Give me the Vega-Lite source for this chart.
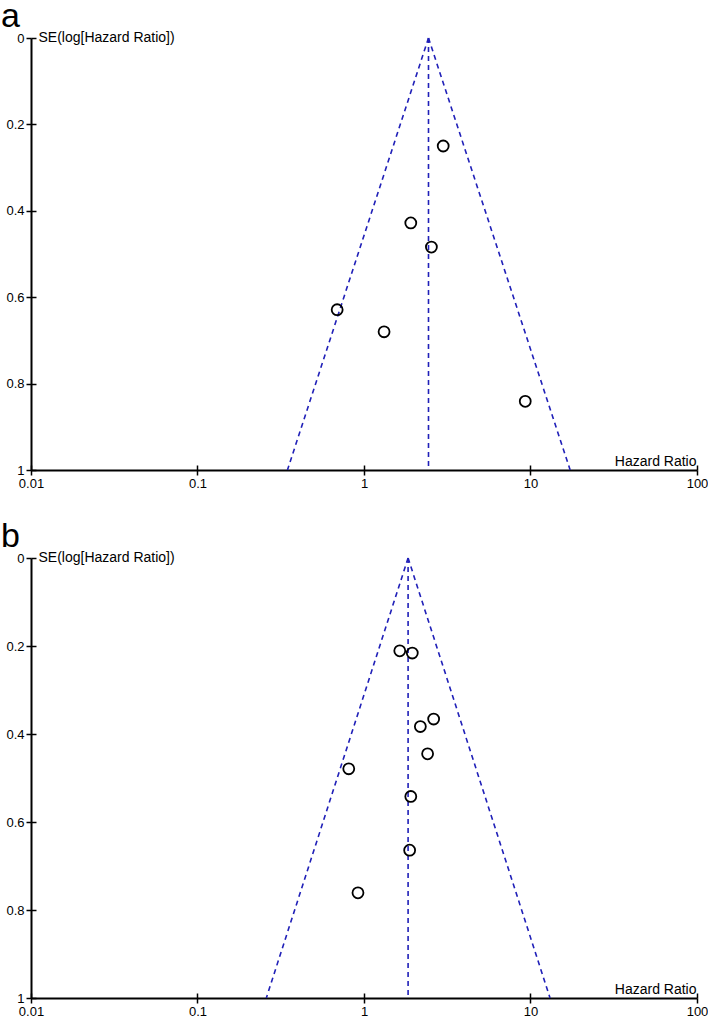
{
  "$schema": "https://vega.github.io/schema/vega-lite/v6.json",
  "padding": {"left": 0, "top": 0, "right": 0, "bottom": 0},
  "background": "white",
  "spacing": 30,
  "config": {
    "view": {"stroke": null},
    "font": "Liberation Sans",
    "axis": {
      "grid": false,
      "labelFont": "Liberation Sans",
      "labelFontSize": 13,
      "labelColor": "black",
      "titleFont": "Liberation Sans",
      "titleFontSize": 14,
      "titleFontWeight": "normal",
      "titleColor": "black",
      "domainColor": "black",
      "domainWidth": 2,
      "tickColor": "black",
      "tickWidth": 1.5,
      "tickSize": 5,
      "labelPadding": 2
    },
    "title": {"font": "Liberation Sans", "fontWeight": "normal", "fontSize": 34, "color": "black", "anchor": "start"}
  },
  "datasets": {
    "funnelA": [
      {"line": "left", "hr": 2.44, "se": 0}, {"line": "left", "hr": 0.347, "se": 1},
      {"line": "right", "hr": 2.44, "se": 0}, {"line": "right", "hr": 17.3, "se": 1},
      {"line": "center", "hr": 2.44, "se": 0}, {"line": "center", "hr": 2.44, "se": 1}
    ],
    "pointsA": [
      {"hr": 2.99, "se": 0.25},
      {"hr": 1.91, "se": 0.428},
      {"hr": 2.54, "se": 0.484},
      {"hr": 0.69, "se": 0.629},
      {"hr": 1.32, "se": 0.68},
      {"hr": 9.3, "se": 0.841}
    ],
    "funnelB": [
      {"line": "left", "hr": 1.84, "se": 0}, {"line": "left", "hr": 0.259, "se": 1},
      {"line": "right", "hr": 1.84, "se": 0}, {"line": "right", "hr": 13.1, "se": 1},
      {"line": "center", "hr": 1.84, "se": 0}, {"line": "center", "hr": 1.84, "se": 1}
    ],
    "pointsB": [
      {"hr": 1.64, "se": 0.211},
      {"hr": 1.95, "se": 0.216},
      {"hr": 2.62, "se": 0.366},
      {"hr": 2.18, "se": 0.383},
      {"hr": 2.41, "se": 0.445},
      {"hr": 0.81, "se": 0.479},
      {"hr": 1.91, "se": 0.542},
      {"hr": 1.88, "se": 0.664},
      {"hr": 0.92, "se": 0.761}
    ]
  },
  "vconcat": [
    {
      "width": 666,
      "height": 432,
      "title": {"text": "a", "dx": -5, "offset": -4},
      "layer": [
        {
          "data": {"name": "funnelA"},
          "mark": {"type": "line", "color": "#2020b8", "strokeWidth": 1.6, "strokeDash": [5, 4]},
          "encoding": {
            "x": {"field": "hr", "type": "quantitative",
                  "scale": {"type": "log", "domain": [0.01, 100], "nice": false},
                  "axis": {"orient": "bottom", "values": [0.01, 0.1, 1, 10, 100], "format": "~g", "labelFlush": false,
                           "title": "Hazard Ratio", "titleAlign": "right", "titleX": 665, "titleY": -5, "titleBaseline": "alphabetic", "titleAnchor": null}},
            "y": {"field": "se", "type": "quantitative",
                  "scale": {"domain": [0, 1], "reverse": true, "nice": false},
                  "axis": {"orient": "left", "values": [0, 0.2, 0.4, 0.6, 0.8, 1], "format": ".1~f", "labelFlush": false,
                           "title": "SE(log[Hazard Ratio])", "titleAngle": 0, "titleAlign": "left", "titleX": 7, "titleY": 3, "titleBaseline": "alphabetic", "titleAnchor": null}},
            "detail": {"field": "line", "type": "nominal"},
            "order": {"field": "se", "type": "quantitative"}
          }
        },
        {
          "data": {"name": "pointsA"},
          "mark": {"type": "point", "shape": "circle", "filled": false, "color": "black", "strokeWidth": 1.8, "size": 120, "opacity": 1},
          "encoding": {
            "x": {"field": "hr", "type": "quantitative",
                  "axis": {"orient": "top", "offset": -432, "values": [0.01, 0.1, 1, 10, 100], "labels": false, "domain": false, "title": null}},
            "y": {"field": "se", "type": "quantitative",
                  "axis": {"orient": "right", "offset": -666, "values": [0, 0.2, 0.4, 0.6, 0.8, 1], "labels": false, "domain": false, "title": null}}
          }
        }
      ]
    },
    {
      "width": 666,
      "height": 440,
      "title": {"text": "b", "dx": -5, "offset": -4},
      "layer": [
        {
          "data": {"name": "funnelB"},
          "mark": {"type": "line", "color": "#2020b8", "strokeWidth": 1.6, "strokeDash": [5, 4]},
          "encoding": {
            "x": {"field": "hr", "type": "quantitative",
                  "scale": {"type": "log", "domain": [0.01, 100], "nice": false},
                  "axis": {"orient": "bottom", "values": [0.01, 0.1, 1, 10, 100], "format": "~g", "labelFlush": false,
                           "title": "Hazard Ratio", "titleAlign": "right", "titleX": 665, "titleY": -5, "titleBaseline": "alphabetic", "titleAnchor": null}},
            "y": {"field": "se", "type": "quantitative",
                  "scale": {"domain": [0, 1], "reverse": true, "nice": false},
                  "axis": {"orient": "left", "values": [0, 0.2, 0.4, 0.6, 0.8, 1], "format": ".1~f", "labelFlush": false,
                           "title": "SE(log[Hazard Ratio])", "titleAngle": 0, "titleAlign": "left", "titleX": 7, "titleY": 3, "titleBaseline": "alphabetic", "titleAnchor": null}},
            "detail": {"field": "line", "type": "nominal"},
            "order": {"field": "se", "type": "quantitative"}
          }
        },
        {
          "data": {"name": "pointsB"},
          "mark": {"type": "point", "shape": "circle", "filled": false, "color": "black", "strokeWidth": 1.8, "size": 120, "opacity": 1},
          "encoding": {
            "x": {"field": "hr", "type": "quantitative",
                  "axis": {"orient": "top", "offset": -440, "values": [0.01, 0.1, 1, 10, 100], "labels": false, "domain": false, "title": null}},
            "y": {"field": "se", "type": "quantitative",
                  "axis": {"orient": "right", "offset": -666, "values": [0, 0.2, 0.4, 0.6, 0.8, 1], "labels": false, "domain": false, "title": null}}
          }
        }
      ]
    }
  ]
}
